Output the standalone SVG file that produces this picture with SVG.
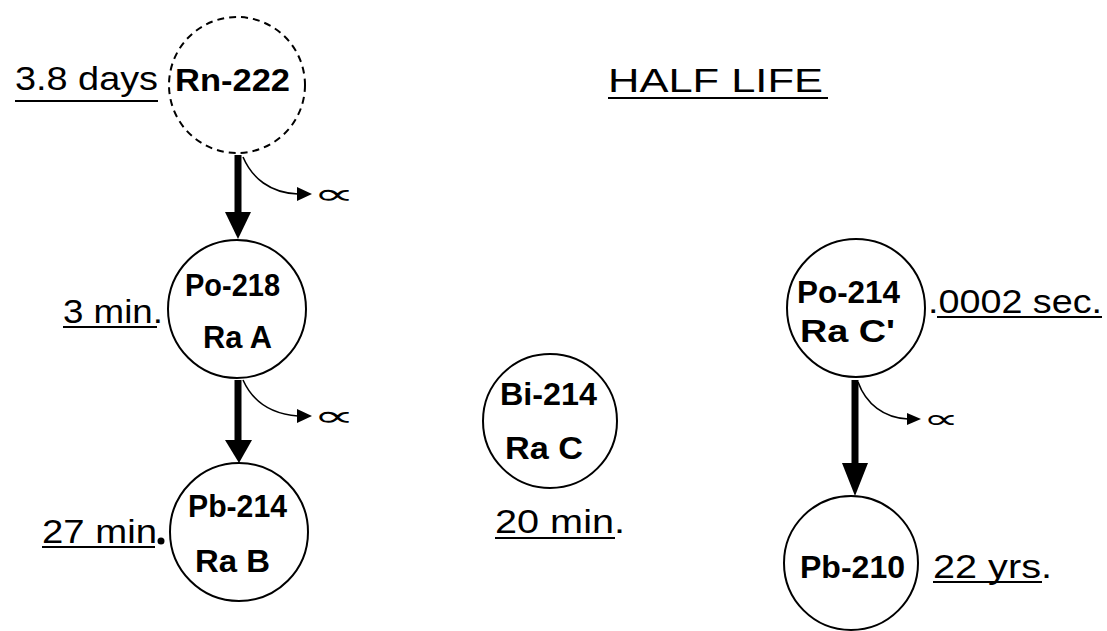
<svg xmlns="http://www.w3.org/2000/svg" width="1107" height="631" viewBox="0 0 1107 631">
<defs>
<style>
.node{fill:#fff;stroke:#000;stroke-width:2}
.dash{stroke-dasharray:7 5}
.nt{font-family:"Liberation Sans",Arial,sans-serif;font-weight:bold;font-size:31px;fill:#000}
.hl{font-family:"Liberation Sans",Arial,sans-serif;font-size:33px;fill:#000}
.ul{stroke:#000;stroke-width:2}
.main{stroke:#000;stroke-width:7;fill:none}
.side{stroke:#000;stroke-width:1.6;fill:none}
.alpha{font-family:"DejaVu Sans",sans-serif;font-size:28px;fill:#000}
</style>
</defs>
<rect width="1107" height="631" fill="#fff"/>
<g id="title">
<text x="608" y="92" class="hl" font-size="40" textLength="215" lengthAdjust="spacingAndGlyphs">HALF LIFE</text>
<line class="ul" x1="608" y1="98" x2="828" y2="98"/>
</g>
<g id="connectors">
<line class="main" x1="238" y1="155" x2="238" y2="215"/>
<polygon points="225,212 251,212 238,239"/>
<path class="side" d="M243,157 C252,178 270,193 298,194"/>
<polygon points="297,187 297,201 312,194"/>
<text class="alpha" transform="translate(313,204) scale(2.1,1.05)">∝</text>
<line class="main" x1="238" y1="380" x2="238" y2="443"/>
<polygon points="225,440 252,440 239,463"/>
<path class="side" d="M243,380 C252,400 270,414 298,416"/>
<polygon points="297,409 297,423 312,416"/>
<text class="alpha" transform="translate(313,426) scale(2.1,1.05)">∝</text>
<line class="main" x1="855" y1="380" x2="855" y2="466"/>
<polygon points="842,463 868,463 855,496"/>
<path class="side" d="M858,382 C866,404 884,418 908,419"/>
<polygon points="907,413 907,425 921,419"/>
<text class="alpha" transform="translate(923,428) scale(1.8,0.95)">∝</text>
</g>
<g id="rn222">
<circle class="node dash" cx="237" cy="85" r="68"/>
<text class="nt" x="175" y="91" font-size="27" textLength="115" lengthAdjust="spacingAndGlyphs">Rn-222</text>
<text class="hl" x="15" y="90" textLength="143" lengthAdjust="spacingAndGlyphs">3.8 days</text>
<line class="ul" x1="15" y1="101" x2="158" y2="101"/>
</g>
<g id="po218">
<circle class="node" cx="237" cy="309" r="69"/>
<text class="nt" x="185" y="296" textLength="95" lengthAdjust="spacingAndGlyphs">Po-218</text>
<text class="nt" x="203" y="348" textLength="69" lengthAdjust="spacingAndGlyphs">Ra A</text>
<text class="hl" x="63" y="323" textLength="100" lengthAdjust="spacingAndGlyphs">3 min.</text>
<line class="ul" x1="63" y1="327" x2="157" y2="327"/>
</g>
<g id="pb214">
<circle class="node" cx="239" cy="532" r="69"/>
<text class="nt" x="188" y="517" textLength="99" lengthAdjust="spacingAndGlyphs">Pb-214</text>
<text class="nt" x="195" y="572" textLength="75" lengthAdjust="spacingAndGlyphs">Ra B</text>
<text class="hl" x="42" y="543" textLength="115" lengthAdjust="spacingAndGlyphs">27 min</text>
<circle cx="161" cy="541" r="3.5"/>
<line class="ul" x1="42" y1="547" x2="155" y2="547"/>
</g>
<g id="bi214">
<circle class="node" cx="550" cy="421" r="67"/>
<text class="nt" x="500" y="405" textLength="97" lengthAdjust="spacingAndGlyphs">Bi-214</text>
<text class="nt" x="505" y="459" textLength="78" lengthAdjust="spacingAndGlyphs">Ra C</text>
<text class="hl" x="495" y="533" textLength="130" lengthAdjust="spacingAndGlyphs">20 min.</text>
<line class="ul" x1="495" y1="538" x2="615" y2="538"/>
</g>
<g id="po214">
<circle class="node" cx="856" cy="308" r="69"/>
<text class="nt" x="797" y="303" textLength="103" lengthAdjust="spacingAndGlyphs">Po-214</text>
<text class="nt" x="800" y="342" textLength="95" lengthAdjust="spacingAndGlyphs">Ra C'</text>
<text class="hl" x="928" y="313" textLength="174" lengthAdjust="spacingAndGlyphs">.0002 sec.</text>
<line class="ul" x1="937" y1="317" x2="1102" y2="317"/>
</g>
<g id="pb210">
<circle class="node" cx="851" cy="563" r="67"/>
<text class="nt" x="800" y="578" textLength="105" lengthAdjust="spacingAndGlyphs">Pb-210</text>
<text class="hl" x="933" y="578" textLength="119" lengthAdjust="spacingAndGlyphs">22 yrs.</text>
<line class="ul" x1="933" y1="582" x2="1042" y2="582"/>
</g>
</svg>
